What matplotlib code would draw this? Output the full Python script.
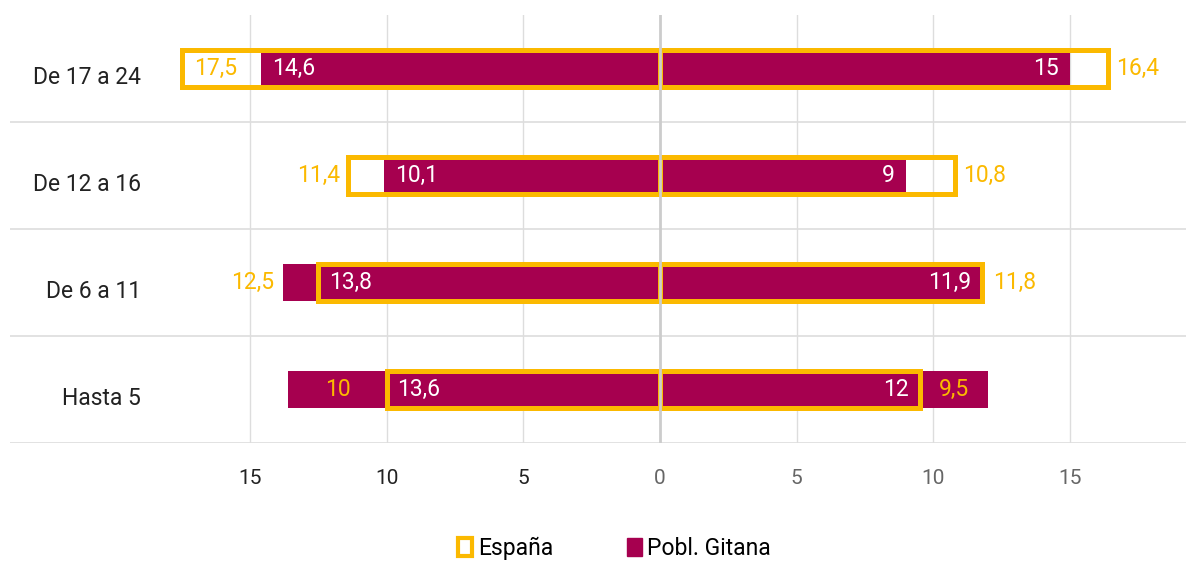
import numpy as np
import matplotlib.pyplot as plt
from matplotlib.patches import Patch

plt.rcParams['font.family'] = ['Roboto', 'DejaVu Sans']

# Datos (de abajo hacia arriba)
grupos = ['Hasta 5', 'De 6 a 11', 'De 12 a 16', 'De 17 a 24']
espana_izq = [10, 12.5, 11.4, 17.5]
gitana_izq = [13.6, 13.8, 10.1, 14.6]
espana_der = [9.5, 11.8, 10.8, 16.4]
gitana_der = [12, 11.9, 9, 15]
ticks = [-15, -10, -5, 0, 5, 10, 15]

amarillo = '#FBB900'
morado = '#A6004F'

def fmt(v):
    return f'{v:g}'.replace('.', ',')

fig = plt.figure(figsize=(11.86, 5.61), dpi=100)
ax = fig.add_axes([10 / 1186, 1 - 443 / 561, 1 - 10 / 1186, 428 / 561])

y = np.arange(len(grupos))
h = 0.35

# rejilla
for t in ticks:
    if t != 0:
        ax.axvline(t, color='#dddddd', lw=1, zorder=0)
for b in [-0.5, 0.5, 1.5, 2.5]:
    ax.axhline(b, color='#dddddd', lw=1.2, zorder=0)

ax.barh(y, -np.array(gitana_izq), height=h, color=morado, zorder=2)
ax.barh(y, gitana_der, height=h, color=morado, zorder=2)
ax.barh(y, -np.array(espana_izq), height=h, facecolor='none', edgecolor=amarillo, lw=3.6, zorder=3)
ax.barh(y, espana_der, height=h, facecolor='none', edgecolor=amarillo, lw=3.6, zorder=3)

ax.axvline(0, color='#cccccc', lw=2, zorder=4)

fs = 16.5
for i in range(len(grupos)):
    for signo, esp, git in [(-1, espana_izq[i], gitana_izq[i]), (1, espana_der[i], gitana_der[i])]:
        # etiqueta Pobl. Gitana, dentro de la barra
        m = min(esp, git)
        ax.text(signo * (m - 0.4), y[i], fmt(git), color='white', fontsize=fs,
                ha='right' if signo > 0 else 'left', va='center', zorder=5)
        # etiqueta España
        if esp < git - 2:
            ax.text(signo * (esp + git) / 2, y[i], fmt(esp), color=amarillo, fontsize=fs,
                    ha='center', va='center', zorder=5)
        elif signo < 0 and esp > 17:
            ax.text(-(esp - 0.45), y[i], fmt(esp), color=amarillo, fontsize=fs,
                    ha='left', va='center', zorder=5)
        else:
            ax.text(signo * (max(esp, git) + 0.3), y[i], fmt(esp), color=amarillo, fontsize=fs,
                    ha='left' if signo > 0 else 'right', va='center', zorder=5)
    ax.text(-19.0, y[i] - 0.08, grupos[i], color='#222222', fontsize=16.5, ha='right', va='center')

ax.set_xlim(-23.78, 19.25)
ax.set_ylim(-0.5, 3.5)
ax.set_xticks(ticks)
ax.set_xticklabels([str(abs(t)) for t in ticks], fontsize=15)
for lab, t in zip(ax.get_xticklabels(), ticks):
    lab.set_color('#222222' if t < 0 else '#666666')
ax.tick_params(axis='x', length=0, pad=19)
ax.set_yticks([])
for s in ax.spines.values():
    s.set_visible(False)

handles = [Patch(facecolor='white', edgecolor=amarillo, lw=3),
           Patch(facecolor=morado, edgecolor=morado)]
fig.legend(handles, ['España', 'Pobl. Gitana'], loc='center', bbox_to_anchor=(0.518, 1 - 548 / 561),
           ncol=2, frameon=False, fontsize=16.5, handlelength=0.65, handleheight=0.85,
           handletextpad=0.25, columnspacing=3.2)

fig.savefig('out.png', dpi=100)
